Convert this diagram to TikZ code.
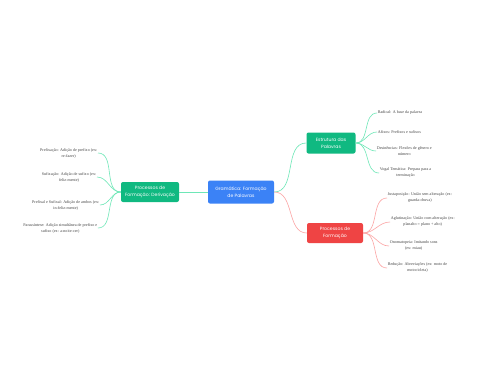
\documentclass[tikz,border=0pt]{standalone}
\usepackage{fontspec}
\setmainfont{Liberation Serif}
\newfontfamily\boxfont{Poppins}
\definecolor{cblue}{HTML}{3B82F6}
\definecolor{cgreen}{HTML}{10B981}
\definecolor{cred}{HTML}{EF4444}
\definecolor{lgreen}{HTML}{6EE7B7}
\definecolor{lred}{HTML}{FCA5A5}
\definecolor{ltext}{HTML}{444444}
\tikzset{
  mainbox/.style={rounded corners=2pt, text=white, font=\boxfont\fontsize{4.6}{7}\selectfont, align=center, inner sep=0pt},
  leaf/.style={text=ltext, font=\fontsize{4.1}{6}\selectfont, align=center, inner sep=0.6pt},
  gconn/.style={draw=lgreen, line width=0.6pt},
  rconn/.style={draw=lred, line width=0.6pt},
}
\begin{document}
\begin{tikzpicture}[x=1pt,y=-1pt]
\useasboundingbox (0,0) rectangle (480,384);
\fill[white] (0,0) rectangle (480,384);
% main nodes
\node[mainbox, fill=cblue, minimum width=66pt, minimum height=23pt] (c) at (241,192) {Gramática: Formação\\de Palavras};
\node[mainbox, fill=cgreen, minimum width=49pt, minimum height=21pt] (e) at (331,143) {Estrutura das\\Palavras};
\node[mainbox, fill=cred, minimum width=56pt, minimum height=20pt] (p) at (335,233) {Processos de\\Formação};
\node[mainbox, fill=cgreen, minimum width=58pt, minimum height=20pt] (d) at (150,192) {Processos de\\Formação: Derivação};
% right-top leaves
\node[leaf, anchor=west] (r1) at (377,113) {Radical: A base da palavra};
\node[leaf, anchor=west] (r2) at (377,132) {Afixos: Prefixos e sufixos};
\node[leaf, anchor=west] (r3) at (376,151) {Desinências: Flexões de gênero e\\número};
\node[leaf, anchor=west] (r4) at (379,173) {Vogal Temática: Prepara para a\\terminação};
% right-bottom leaves
\node[leaf, anchor=west] (s1) at (387,198) {Justaposição: União sem alteração (ex:\\guarda-chuva)};
\node[leaf, anchor=west] (s2) at (390,222) {Aglutinação: União com alteração (ex:\\planalto = plano + alto)};
\node[leaf, anchor=west] (s3) at (389,246) {Onomatopeia: Imitando sons\\(ex: miau)};
\node[leaf, anchor=west] (s4) at (387,268) {Redução: Abreviações (ex: moto de\\motocicleta)};
% left leaves
\node[leaf, anchor=east] (l1) at (98,153) {Prefixação: Adição de prefixo (ex:\\re-fazer)};
\node[leaf, anchor=east] (l2) at (97,177) {Sufixação: Adição de sufixo (ex:\\feliz-mente)};
\node[leaf, anchor=east] (l3) at (100,205) {Prefixal e Sufixal: Adição de ambos (ex:\\in-feliz-mente)};
\node[leaf, anchor=east] (l4) at (98,228) {Parassíntese: Adição simultânea de prefixo e\\sufixo (ex: a-noite-cer)};
% connectors
\draw[gconn] (c.west) -- (d.east);
\draw[gconn] (c.east) to[out=0,in=180] (e.west);
\draw[rconn] (c.east) to[out=0,in=180] (p.west);
\foreach \n in {r1,r2,r3,r4} \draw[gconn] (e.east) to[out=0,in=180] (\n.west);
\foreach \n in {s1,s2,s3,s4} \draw[rconn] (p.east) to[out=0,in=180] (\n.west);
\foreach \n in {l1,l2,l3,l4} \draw[gconn] (d.west) to[out=180,in=0] (\n.east);
\end{tikzpicture}
\end{document}
